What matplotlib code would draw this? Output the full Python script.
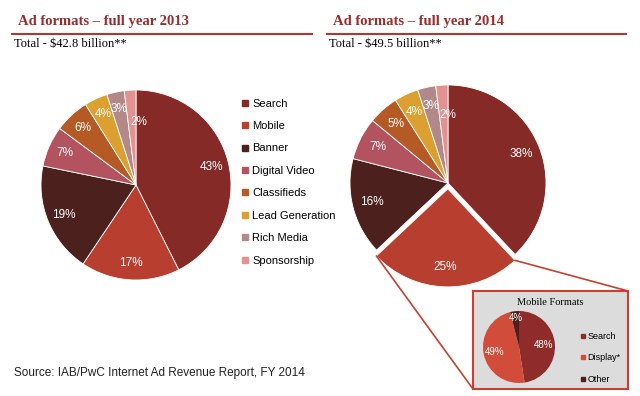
import numpy as np
import matplotlib
matplotlib.use("Agg")
import matplotlib.pyplot as plt
from matplotlib.lines import Line2D
from matplotlib.patches import ConnectionPatch

# data
formats = ["Search", "Mobile", "Banner", "Digital Video", "Classifieds",
           "Lead Generation", "Rich Media", "Sponsorship"]
share_2013 = [43, 17, 19, 7, 6, 4, 3, 2]
share_2014 = [38, 25, 16, 7, 5, 4, 3, 2]
mobile_formats = ["Search", "Display*", "Other"]
mobile_share = [48, 49, 4]

colors = ["#862a27", "#b83e2f", "#4b201d", "#b2535f", "#b65a25",
          "#dba030", "#b38889", "#e39292"]
mobile_colors = ["#8f2c2b", "#d24c3a", "#4b201d"]
dark_red = "#9c2b2b"
line_red = "#c8402f"

W, H = 640, 396
fig = plt.figure(figsize=(W / 100, H / 100), dpi=100)
fig.patch.set_facecolor("white")


def fx(x):
    return x / W


def fy(y):
    return 1 - y / H


def pie_axes(cx, cy, r, pad=1.2):
    side = 2 * pad * r
    ax = fig.add_axes([fx(cx - side / 2), fy(cy + side / 2), side / W, side / H])
    ax.set_xlim(-pad, pad)
    ax.set_ylim(-pad, pad)
    ax.set_aspect("equal")
    ax.axis("off")
    return ax


pct_style = dict(color="white", fontsize=8.5, family="Liberation Sans")

# 2013 pie
ax1 = pie_axes(136, 185, 95)
w1, _, t1 = ax1.pie(share_2013, colors=colors, startangle=90, counterclock=False,
                    autopct="%d%%", pctdistance=0.82,
                    wedgeprops=dict(edgecolor="white", linewidth=0.6),
                    textprops=pct_style)
for t, v in zip(t1, share_2013):
    t.set_text(f"{v}%")
x, y = t1[-1].get_position()
t1[-1].set_position((x + 0.08, y - 0.15))
ax1.set_xlim(-1.2, 1.2)
ax1.set_ylim(-1.2, 1.2)

# 2014 pie
ax2 = pie_axes(448, 183, 98)
explode = [0, 0.06, 0, 0, 0, 0, 0, 0]
w2, _, t2 = ax2.pie(share_2014, colors=colors, startangle=90, counterclock=False,
                    explode=explode, autopct="%d%%", pctdistance=0.8,
                    wedgeprops=dict(edgecolor="white", linewidth=0.6),
                    textprops=pct_style)
for t, v in zip(t2, share_2014):
    t.set_text(f"{v}%")
x, y = t2[-1].get_position()
t2[-1].set_position((x + 0.05, y - 0.1))
ax2.set_xlim(-1.2, 1.2)
ax2.set_ylim(-1.2, 1.2)

# headers
for x0, x1, title, total in [(12, 312, "Ad formats \u2013 full year 2013", "Total - $42.8 billion**"),
                             (327, 626, "Ad formats \u2013 full year 2014", "Total - $49.5 billion**")]:
    fig.text(fx(x0 + 6), fy(22), title, color=dark_red, fontsize=10.5,
             fontweight="bold", family="Liberation Serif", va="center")
    fig.add_artist(Line2D([fx(x0), fx(x1)], [fy(34), fy(34)], color="#a93a35", lw=1.5))
    fig.text(fx(x0 + 2), fy(44), total, color="black", fontsize=9,
             family="Liberation Serif", va="center")

# legend
handles = [Line2D([], [], marker="s", ls="", color=c, markersize=5) for c in colors]
fig.legend(handles, formats, loc="upper left", bbox_to_anchor=(fx(236), fy(93)),
           frameon=False, handlelength=0.6, handletextpad=0.35, labelspacing=1.12,
           borderpad=0, prop=dict(family="Liberation Sans", size=8))

fig.text(fx(14), fy(373), "Source: IAB/PwC Internet Ad Revenue Report, FY 2014",
         fontsize=8.5, family="Liberation Sans", color="#222222", va="center")

# inset box
box = fig.add_axes([fx(473), fy(389), (628 - 473) / W, (389 - 291) / H])
box.set_facecolor("#dcdcdc")
box.set_xticks([])
box.set_yticks([])
for s in box.spines.values():
    s.set_color(line_red)
    s.set_linewidth(1.5)
box.text(0.5, 0.88, "Mobile Formats", transform=box.transAxes, ha="center",
         va="center", fontsize=7.5, family="Liberation Serif")

ax3 = pie_axes(519, 347, 36)
ax3.set_zorder(box.get_zorder() + 1)
w3, _, t3 = ax3.pie(mobile_share, colors=mobile_colors, startangle=90, counterclock=False,
                    autopct="%d%%", pctdistance=0.68,
                    wedgeprops=dict(edgecolor="none"),
                    textprops=dict(color="white", fontsize=7, family="Liberation Sans"))
for t, v in zip(t3, mobile_share):
    t.set_text(f"{v}%")
t3[-1].set_position((t3[-1].get_position()[0], 0.8))
ax3.set_xlim(-1.2, 1.2)
ax3.set_ylim(-1.2, 1.2)

mh = [Line2D([], [], marker="s", ls="", color=c, markersize=3.5) for c in mobile_colors]
box.legend(mh, mobile_formats, loc="upper left", bbox_to_anchor=(0.67, 0.63),
           frameon=False, handlelength=0.4, handletextpad=0.3, labelspacing=1.4,
           borderpad=0, prop=dict(family="Liberation Sans", size=6.5))

# connectors from the exploded mobile wedge to the inset
mw = w2[1]
cx, cy = mw.center
for ang, target in [(mw.theta2, (1, 1)), (mw.theta1, (0, 0))]:
    p = (cx + mw.r * np.cos(np.radians(ang)), cy + mw.r * np.sin(np.radians(ang)))
    con = ConnectionPatch(xyA=p, coordsA=ax2.transData, xyB=target, coordsB=box.transAxes,
                          color=line_red, lw=1.2)
    fig.add_artist(con)

fig.savefig("out.png", dpi=100, facecolor="white")
